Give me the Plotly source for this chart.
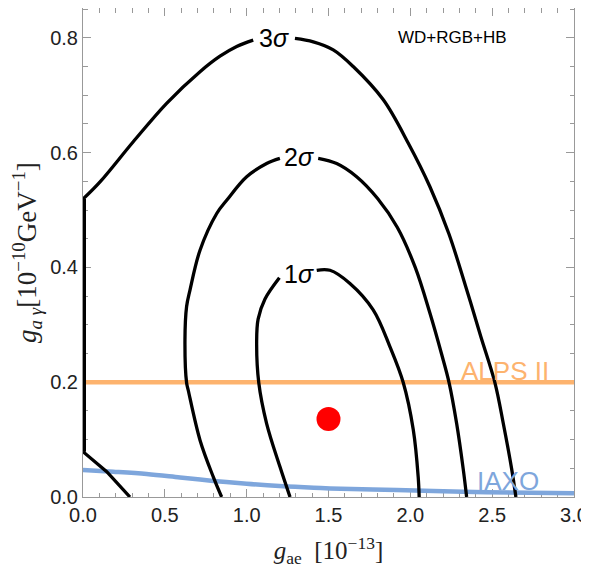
import plotly.graph_objects as go

# ---- data ----
# 3 sigma contour: straight part along the left edge, then curved part (None = gap for label)
x3_edge = [0.287, 0.145, 0.0, 0.0]
y3_edge = [0.0, 0.044, 0.079, 0.519]
x3 = [0.0, 0.104, 0.307, 0.511, 0.715, 0.837, 0.939, 1.04, None,
      1.295, 1.407, 1.529, 1.651, 1.835, 1.99, 2.119, 2.235, 2.335, 2.43, 2.517, 2.568, 2.619, 2.645]
y3 = [0.519, 0.549, 0.619, 0.686, 0.741, 0.768, 0.785, 0.796, None,
      0.799, 0.793, 0.779, 0.75, 0.692, 0.615, 0.541, 0.459, 0.37, 0.28, 0.199, 0.128, 0.049, 0.0]

# 2 sigma contour
x2 = [0.847, 0.796, 0.715, 0.643, 0.633, 0.623, 0.633, 0.654, 0.715, 0.817, 0.878, 1.0, 1.122, 1.203, None,
      1.437, 1.55, 1.672, 1.80, 1.92, 2.03, 2.12, 2.19, 2.237, 2.283, 2.323, 2.344]
y2 = [0.0, 0.035, 0.099, 0.186, 0.199, 0.274, 0.332, 0.361, 0.43, 0.494, 0.517, 0.558, 0.581, 0.59, None,
      0.59, 0.581, 0.558, 0.52, 0.47, 0.40, 0.32, 0.25, 0.199, 0.128, 0.049, 0.0]

# 1 sigma contour
x1 = [1.265, 1.203, 1.122, 1.074, 1.061, 1.07, 1.112, 1.2, None,
      1.428, 1.509, 1.631, 1.773, 1.875, 1.957, 2.018, 2.048, 2.054]
y1 = [0.0, 0.053, 0.128, 0.199, 0.27, 0.31, 0.345, 0.382, None,
      0.395, 0.395, 0.372, 0.326, 0.262, 0.199, 0.117, 0.035, 0.0]

# ALPS II sensitivity (horizontal)
alps_x = [0.0, 3.0]
alps_y = [0.2, 0.2]

# IAXO sensitivity
iaxo_x = [0.0, 0.185, 0.389, 0.593, 0.796, 1.0, 1.2, 1.41, 1.51, 1.916, 2.323, 2.73, 3.0]
iaxo_y = [0.047, 0.044, 0.040, 0.034, 0.028, 0.023, 0.019, 0.016, 0.015, 0.012, 0.009, 0.0075, 0.0064]

# best fit point
best_x = [1.5]
best_y = [0.136]

# contour labels
sig_labels = ["1<i>σ</i>", "2<i>σ</i>", "3<i>σ</i>"]
sig_x = [1.32, 1.32, 1.17]
sig_y = [0.389, 0.592, 0.799]

x_ticks = [0.0, 0.5, 1.0, 1.5, 2.0, 2.5, 3.0]
y_ticks = [0.0, 0.2, 0.4, 0.6, 0.8]

ORANGE = "#FDB36E"
BLUE = "#7EA6DC"
SANS = "Liberation Sans, Arial"
SERIF = "Liberation Serif, Times New Roman"

fig = go.Figure()
fig.add_trace(go.Scatter(x=alps_x, y=alps_y, mode="lines",
                         line=dict(color=ORANGE, width=4.5), showlegend=False))
fig.add_trace(go.Scatter(x=iaxo_x, y=iaxo_y, mode="lines", line_shape="spline",
                         line=dict(color=BLUE, width=4.5), showlegend=False))
# part lying on the left frame (half of it is clipped, so drawn wider)
fig.add_trace(go.Scatter(x=x3_edge[2:], y=y3_edge[2:], mode="lines",
                         line=dict(color="black", width=6), showlegend=False))
fig.add_trace(go.Scatter(x=x3_edge[:3], y=y3_edge[:3], mode="lines",
                         line=dict(color="black", width=3.3), showlegend=False))
for xs, ys in [(x3, y3), (x2, y2), (x1, y1)]:
    fig.add_trace(go.Scatter(x=xs, y=ys, mode="lines", line_shape="spline",
                             line=dict(color="black", width=3.3), showlegend=False,
                             connectgaps=False))
fig.add_trace(go.Scatter(x=best_x, y=best_y, mode="markers",
                         marker=dict(color="#FF0000", size=24), showlegend=False))

for t, xx, yy in zip(sig_labels, sig_x, sig_y):
    fig.add_annotation(x=xx, y=yy, text=t, showarrow=False,
                       font=dict(family=SANS, size=25, color="black"))

fig.add_annotation(x=2.26, y=0.801, text="WD+RGB+HB", showarrow=False,
                   font=dict(family=SANS, size=17, color="black"))
fig.add_annotation(x=2.578, y=0.2195, text="ALPS II", showarrow=False,
                   font=dict(family=SANS, size=26, color=ORANGE))
fig.add_annotation(x=2.598, y=0.028, text="IAXO", showarrow=False,
                   font=dict(family=SANS, size=26, color=BLUE))

axis_common = dict(showline=True, linecolor="#999999", linewidth=1, mirror="ticks",
                   ticks="inside", ticklen=8, tickwidth=1, tickcolor="#999999",
                   showgrid=False, zeroline=False, automargin=False, layer="below traces",
                   tickfont=dict(family=SANS, size=20, color="#222222"))

fig.update_xaxes(range=[0, 3], tickvals=x_ticks, tickformat=".1f",
                 minor=dict(dtick=0.1, ticks="inside", ticklen=4.5, tickcolor="#999999", tickwidth=1),
                 title=dict(text="<i>g</i><sub>ae</sub>  [10<sup>−13</sup>]", standoff=16,
                            font=dict(family=SERIF, size=25, color="#222222")),
                 **axis_common)
fig.update_yaxes(range=[0, 0.852], tickvals=y_ticks, tickformat=".1f",
                 minor=dict(dtick=0.05, ticks="inside", ticklen=4.5, tickcolor="#999999", tickwidth=1),
                 title=dict(text="<i>g</i><sub><i>a γ</i></sub>[10<sup>−10</sup>GeV<sup>−1</sup>]", standoff=10,
                            font=dict(family=SERIF, size=27, color="#222222")),
                 **axis_common)

# the page adds an 8px body margin, so the figure is sized to fit the window
fig.update_layout(width=581, height=568, margin=dict(l=75, r=15, t=0, b=79),
                  plot_bgcolor="white", paper_bgcolor="white")

fig.write_html("out.html")
